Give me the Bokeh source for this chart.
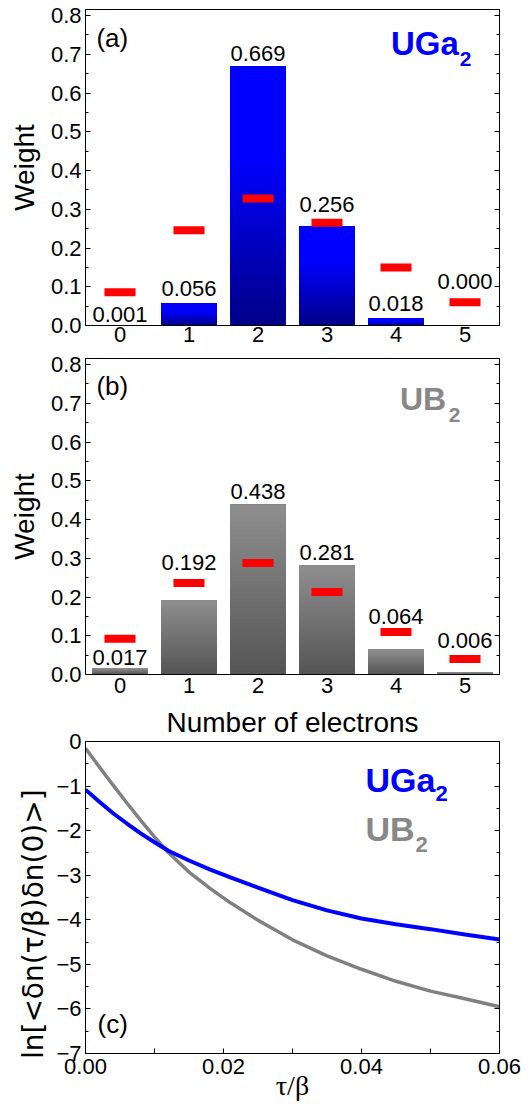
import math
from bokeh.plotting import figure
from bokeh.layouts import column
from bokeh.models import Range1d, FixedTicker, LinearAxis, Label, PrintfTickFormatter
from bokeh.core.properties import value
from bokeh.embed import file_html
from bokeh.resources import INLINE

# ---------------- data ----------------
electrons = [0, 1, 2, 3, 4, 5]
electron_labels = ["0", "1", "2", "3", "4", "5"]

uga2_weight = [0.001, 0.056, 0.669, 0.256, 0.018, 0.000]
uga2_red = [0.086, 0.246, 0.328, 0.265, 0.150, 0.060]

ub2_weight = [0.017, 0.192, 0.438, 0.281, 0.064, 0.006]
ub2_red = [0.092, 0.236, 0.288, 0.213, 0.110, 0.040]

weight_ticks = [0.0, 0.1, 0.2, 0.3, 0.4, 0.5, 0.6, 0.7, 0.8]
weight_minor = [0.05, 0.15, 0.25, 0.35, 0.45, 0.55, 0.65, 0.75]

tau = [0.0, 0.002, 0.004, 0.006, 0.008, 0.010, 0.012, 0.015, 0.018, 0.021,
       0.025, 0.030, 0.035, 0.040, 0.045, 0.050, 0.055, 0.060]
uga2_corr = [-1.08, -1.35, -1.61, -1.84, -2.06, -2.26, -2.45, -2.67, -2.87, -3.05,
             -3.28, -3.56, -3.79, -3.97, -4.10, -4.21, -4.33, -4.44]
ub2_corr = [-0.15, -0.57, -0.98, -1.38, -1.77, -2.14, -2.49, -2.93, -3.29, -3.62,
            -4.01, -4.45, -4.81, -5.11, -5.38, -5.60, -5.77, -5.95]

tau_ticks = [0.0, 0.02, 0.04, 0.06]
tau_minor = [0.01, 0.03, 0.05]
corr_ticks = [-7, -6, -5, -4, -3, -2, -1, 0]
corr_minor = [-6.5, -5.5, -4.5, -3.5, -2.5, -1.5, -0.5]

# ---------------- style ----------------
FONT = "Liberation Sans"
BLUE = "#0000ff"
GRAY = "#888888"
W = 528
BL = 85          # left border (frame left edge)
YMAX = 0.8155
FRAME_H_AB = 316
A_TOP = 9        # page y of frame (a) top
B_TOP = 358      # page y of frame (b) top
# label lifts above bar top (px)
lift_a = [5, 9, 7, 16, 9, 38]
lift_b = [4, 32, 7, 7, 27, 26]
BAR_LABEL_FIX = 6   # renderer baseline correction (px)


def base_fig(height, top, bottom, right, xr, yr):
    p = figure(width=W, height=height, x_range=xr, y_range=yr,
               output_backend="svg", toolbar_location=None,
               min_border_left=BL, min_border_right=right,
               min_border_top=top, min_border_bottom=bottom)
    p.xgrid.visible = False
    p.ygrid.visible = False
    p.outline_line_color = "black"
    p.outline_line_width = 1
    p.outline_line_alpha = 1
    p.background_fill_color = "white"
    p.border_fill_color = "white"
    return p


def style_axis(ax, standoff):
    ax.axis_line_color = "black"
    ax.major_tick_line_color = "black"
    ax.minor_tick_line_color = "black"
    ax.major_tick_in = 5
    ax.major_tick_out = 0
    ax.minor_tick_in = 3
    ax.minor_tick_out = 0
    ax.major_label_text_font = FONT
    ax.major_label_text_font_size = "22px"
    ax.major_label_text_color = "black"
    ax.major_label_standoff = standoff
    ax.axis_label_text_font = FONT
    ax.axis_label_text_font_size = "28px"
    ax.axis_label_text_font_style = "normal"
    ax.axis_label_text_color = "black"


def mirror_axis(p, ticks, minor, where):
    ax = LinearAxis(ticker=FixedTicker(ticks=ticks, minor_ticks=minor))
    style_axis(ax, 0)
    ax.major_label_overrides = {t: "" for t in ticks}
    p.add_layout(ax, where)


def add_label(p, fx, fy, px, py, text, size, color="black", bold=False):
    # px, py: intended glyph left / baseline in page pixels; fix corrects renderer offset
    fix = (0.47 if bold else 0.27) * size
    p.add_layout(Label(x=fx(px), y=fy(py - fix), text=text, text_font=FONT,
                       text_font_size=f"{size}px", text_color=color,
                       text_font_style="bold" if bold else "normal",
                       text_align="left", text_baseline="alphabetic"))


def mix(c1, c2, f):
    return "#%02x%02x%02x" % tuple(int(round(a + (b - a) * f)) for a, b in zip(c1, c2))


def bar_panel(p, weights, reds, lifts, top_rgb, bot_rgb, knee, xstandoff):
    n = 40
    L, R, B, T, C = [], [], [], [], []
    for x, v in zip(electrons, weights):
        if v <= 0:
            continue
        for k in range(n):
            f = min(1.0, ((k + 0.5) / n) / knee)
            L.append(x - 0.405)
            R.append(x + 0.405)
            B.append(v * k / n)
            T.append(v)
            C.append(mix(bot_rgb, top_rgb, f))
    p.quad(left=L, right=R, bottom=B, top=T, fill_color=C, line_color=None)
    p.rect(x=electrons, y=reds, width=0.45, height=8, height_units="screen",
           fill_color="#ff0000", line_color=None)
    ppu = FRAME_H_AB / YMAX
    p.text(x=electrons, y=[v + (l + BAR_LABEL_FIX) / ppu for v, l in zip(weights, lifts)],
           text=["%.3f" % v for v in weights], text_align="center",
           text_baseline="alphabetic", text_font=value(FONT),
           text_font_size="22px", text_color="black")

    p.xaxis.ticker = FixedTicker(ticks=electrons)
    p.xaxis.major_label_overrides = {e: s for e, s in zip(electrons, electron_labels)}
    style_axis(p.xaxis[0], xstandoff)
    p.xaxis.major_tick_in = 0
    p.xaxis.minor_tick_in = 0

    p.yaxis.ticker = FixedTicker(ticks=weight_ticks, minor_ticks=weight_minor)
    p.yaxis.formatter = PrintfTickFormatter(format="%.1f")
    style_axis(p.yaxis[0], 4)
    p.yaxis.axis_label = "Weight"
    p.yaxis.axis_label_standoff = 8

    mirror_axis(p, weight_ticks, weight_minor, "right")


# page-pixel -> data helpers for annotation placement (inside frames)
def ab_x(px):
    return -0.5 + (px - 85) / (416 / 6)


def a_y(py):
    return (A_TOP + FRAME_H_AB - py) / (FRAME_H_AB / YMAX)


def b_y(py):
    return (B_TOP + FRAME_H_AB - py) / (FRAME_H_AB / YMAX)


# ---------------- panel (a) ----------------  page y 0..351
pa = base_fig(351, A_TOP, 26, 27, Range1d(-0.5, 5.5), Range1d(0, YMAX))
bar_panel(pa, uga2_weight, uga2_red, lift_a, (0, 0, 255), (0, 0, 135), 0.65, 1)
add_label(pa, ab_x, a_y, 96, 45, "(a)", 26)
add_label(pa, ab_x, a_y, 392, 58.3, "UGa", 33, BLUE, True)
add_label(pa, ab_x, a_y, 461, 68.3, "2", 21, BLUE, True)

# ---------------- panel (b) ----------------  page y 351..703
pb = base_fig(352, B_TOP - 351, 29, 27, Range1d(-0.5, 5.5), Range1d(0, YMAX))
bar_panel(pb, ub2_weight, ub2_red, lift_b, (140, 140, 140), (85, 85, 85), 0.95, 3)
add_label(pb, ab_x, b_y, 96, 393, "(b)", 26)
add_label(pb, ab_x, b_y, 401, 414, "UB", 32, GRAY, True)
add_label(pb, ab_x, b_y, 450, 424, "2", 21, GRAY, True)

# ---------------- panel (c) ----------------  page y 703..1107
pc = base_fig(404, 36, 54, 29, Range1d(0, 0.06), Range1d(-7, 0))
pc.line(tau, ub2_corr, line_width=3.5, line_color="#808080")
pc.line(tau, uga2_corr, line_width=4, line_color=BLUE)

pc.xaxis.ticker = FixedTicker(ticks=tau_ticks, minor_ticks=tau_minor)
pc.xaxis.formatter = PrintfTickFormatter(format="%.2f")
style_axis(pc.xaxis[0], 5)
pc.xaxis.minor_tick_in = 5
pc.xaxis.axis_label = "\u03c4/\u03b2"
pc.xaxis.axis_label_text_font = "Liberation Serif"
pc.xaxis.axis_label_text_font_size = "28px"
pc.xaxis.axis_label_standoff = -7

pc.yaxis.ticker = FixedTicker(ticks=corr_ticks, minor_ticks=corr_minor)
pc.yaxis.major_label_overrides = {t: ("0" if t == 0 else "\u2212%d" % (-t)) for t in corr_ticks}
style_axis(pc.yaxis[0], 4)
pc.yaxis.axis_label = "ln[<\u03b4n(\u03c4/\u03b2)\u03b4n(0)>]" + "\u00a0" * 6
pc.yaxis.axis_label_text_font = "DejaVu Sans"
pc.yaxis.axis_label_text_font_size = "28px"
pc.yaxis.axis_label_standoff = 3

mirror_axis(pc, corr_ticks, corr_minor, "right")

# x-axis title of panel (b), carried by an unticked axis above panel (c)
top_ax = LinearAxis(ticker=FixedTicker(ticks=[]))
style_axis(top_ax, 0)
top_ax.axis_line_color = None
top_ax.major_tick_in = 0
top_ax.minor_tick_in = 0
top_ax.axis_label = "Number of electrons"
top_ax.axis_label_standoff = 4
pc.add_layout(top_ax, "above")


def c_x(px):
    return (px - 85) * 0.06 / 414


def c_y(py):
    return -(py - 739) * 7 / 314


add_label(pc, c_x, c_y, 97, 1030, "(c)", 26)
add_label(pc, c_x, c_y, 365, 794, "UGa", 34, BLUE, True)
add_label(pc, c_x, c_y, 435, 801.7, "2", 22, BLUE, True)
add_label(pc, c_x, c_y, 365, 843.3, "UB", 34, GRAY, True)
add_label(pc, c_x, c_y, 415, 853.3, "2", 22, GRAY, True)

layout = column(pa, pb, pc, spacing=0)
open("out.html", "w").write(file_html(layout, INLINE))
